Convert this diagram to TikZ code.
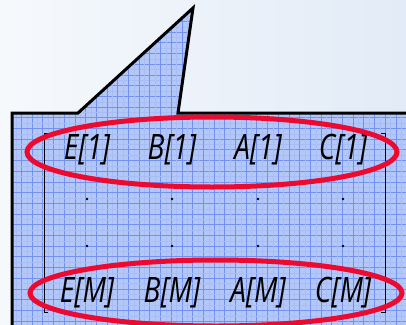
\documentclass[tikz,border=0pt]{standalone}
\usepackage{fontspec}
\newfontfamily\handfont[FakeStretch=0.8]{Open Sans}
\usepackage{xcolor}
\usepackage{tikz}
\usetikzlibrary{calc}

\definecolor{paneblue}{HTML}{B3C8F8}
\definecolor{gridblue}{HTML}{7392F0}
\definecolor{finegrid}{HTML}{A8BDF6}
\definecolor{ringred}{HTML}{EC0A30}
\definecolor{bgleft}{HTML}{F6F9FC}
\definecolor{bgright}{HTML}{E2EBF7}

\tikzset{
  entry/.style={font=\handfont\itshape\fontsize{35}{35}\selectfont,inner sep=0pt},
  ring/.style={draw=ringred,line width=5pt},
  dotmark/.style={circle,fill=black,inner sep=0pt,minimum size=2.8pt},
}

\begin{document}
\begin{tikzpicture}[x=1pt,y=-1pt]
\useasboundingbox (0,0) rectangle (406,324);
\shade[left color=bgleft,right color=bgright] (0,0) rectangle (406,324);
% callout
\begin{scope}
\clip (12,113)--(78,113)--(193,8)--(178,113)--(420,113)--(420,340)--(12,340)--cycle;
\fill[paneblue] (0,0) rectangle (420,340);
\foreach \i in {0,...,39}{
  \draw[finegrid,line width=.3pt] ({\i*10.7+5.35},0)--({\i*10.7+5.35},340);
  \draw[finegrid,line width=.3pt] (0,{\i*10.7+5.35})--(420,{\i*10.7+5.35});
  \draw[gridblue,line width=.7pt] ({\i*10.7},0)--({\i*10.7},340);
  \draw[gridblue,line width=.7pt] (0,{\i*10.7})--(420,{\i*10.7});
}
\end{scope}
\draw[line width=3pt,line join=miter] (420,113)--(178,113)--(193,8)--(78,113)--(12,113)--(12,340);
% brackets
\draw[line width=.8pt] (48,133)--(44,133)--(44,312)--(48,312);
\draw[line width=.8pt] (381,133)--(385,133)--(385,312)--(381,312);
% entries
\foreach \v/\x in {E/87,B/172,A/258,C/343}{
  \node[entry] (\v1) at (\x,150) {\v[1]};
  \node[entry] (\v M) at (\x,293) {\v[M]};
  \node[dotmark] (\v d1) at (\x,199) {};
  \node[dotmark] (\v d2) at (\x,246) {};
}
\draw[ring] (212,152) ellipse [x radius=185,y radius=35];
\draw[ring] (216,293) ellipse [x radius=186,y radius=33];
\end{tikzpicture}
\end{document}
